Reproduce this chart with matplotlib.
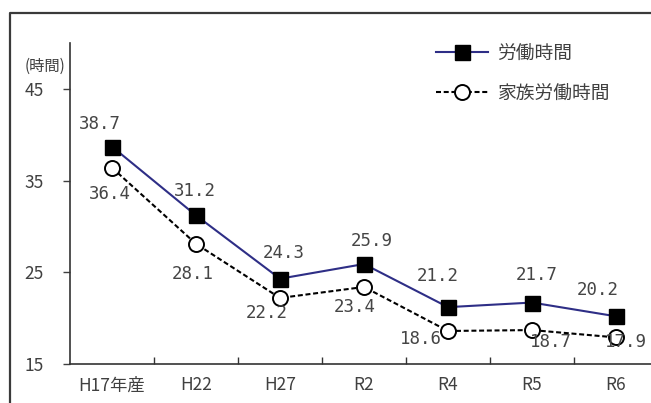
import matplotlib
matplotlib.use('Agg')
import matplotlib.pyplot as plt
from matplotlib.lines import Line2D

categories = ['H17年産', 'H22', 'H27', 'R2', 'R4', 'R5', 'R6']
labor_hours = [38.7, 31.2, 24.3, 25.9, 21.2, 21.7, 20.2]
family_hours = [36.4, 28.1, 22.2, 23.4, 18.6, 18.7, 17.9]
yticks = [15, 25, 35, 45]
series_names = ['労働時間', '家族労働時間']
unit_label = '(時間)'

# label offsets in pixels (dx, dy)
labor_off = [(-12, 23), (-1, 24), (4, 26), (8, 23), (-10, 31), (5, 28), (-18, 26)]
family_off = [(-2, -26), (-3, -30), (-13, -15), (-9, -20), (-27, -8), (19, -12), (10, -5)]

plt.rcParams['font.family'] = ['Noto Sans CJK JP', 'DejaVu Sans']

W, H = 651, 403
fig = plt.figure(figsize=(W / 100, H / 100), dpi=100)
ax = fig.add_axes([70 / W, 39 / H, 588 / W, 321 / H])

x = list(range(len(categories)))
ax.plot(x, labor_hours, color='#2e2e86', lw=1.5, marker='s', ms=10.8,
        mfc='black', mec='black', label=series_names[0], zorder=3)
ax.plot(x, family_hours, color='black', lw=1.5, ls=(0, (2.4, 1.3)), marker='o',
        ms=10.8, mfc='white', mec='black', mew=1.4, label=series_names[1], zorder=3)

lab_kw = dict(textcoords='offset pixels', ha='center', va='center',
              family='DejaVu Sans Mono', fontsize=12.5, color='#454545', zorder=4)
for xi, v, (dx, dy) in zip(x, labor_hours, labor_off):
    ax.annotate(f'{v:.1f}', (xi, v), xytext=(dx, dy), **lab_kw)
for xi, v, (dx, dy) in zip(x, family_hours, family_off):
    ax.annotate(f'{v:.1f}', (xi, v), xytext=(dx, dy), **lab_kw)

ax.set_xlim(-0.5, len(categories) - 0.5)
ax.set_ylim(15, 50)
ax.set_yticks(yticks)
ax.set_xticks(x)
ax.set_xticklabels(categories)
ax.set_xticks([i + 0.5 for i in x[:-1]], minor=True)
ax.tick_params(axis='x', which='major', length=0, pad=9, labelsize=12.5, colors='#404040')
ax.tick_params(axis='x', which='minor', direction='in', length=5, width=1, color='#333333')
ax.tick_params(axis='y', direction='out', length=5, width=1, pad=14, labelsize=12.5,
               colors='#404040')
for s in ['top', 'right']:
    ax.spines[s].set_visible(False)
for s in ['left', 'bottom']:
    ax.spines[s].set_color('#333333')
    ax.spines[s].set_linewidth(1.2)

leg = ax.legend(loc='upper left', bbox_to_anchor=(436 / W, 1 - 43 / H),
                bbox_transform=fig.transFigure, frameon=False, fontsize=13.5,
                handlelength=2.77, handletextpad=0.48, labelspacing=1.0,
                borderpad=0, borderaxespad=0)
for t in leg.get_texts():
    t.set_color('#404040')

fig.text(25 / W, 1 - 66 / H, unit_label, fontsize=11, va='center', ha='left', color='#404040')

fig.add_artist(Line2D([10 / W, 10 / W, 1.0], [0, 1 - 13 / H, 1 - 13 / H],
                      transform=fig.transFigure, color='#3a3a3a', lw=1.6))

fig.savefig('out.png', dpi=100)
